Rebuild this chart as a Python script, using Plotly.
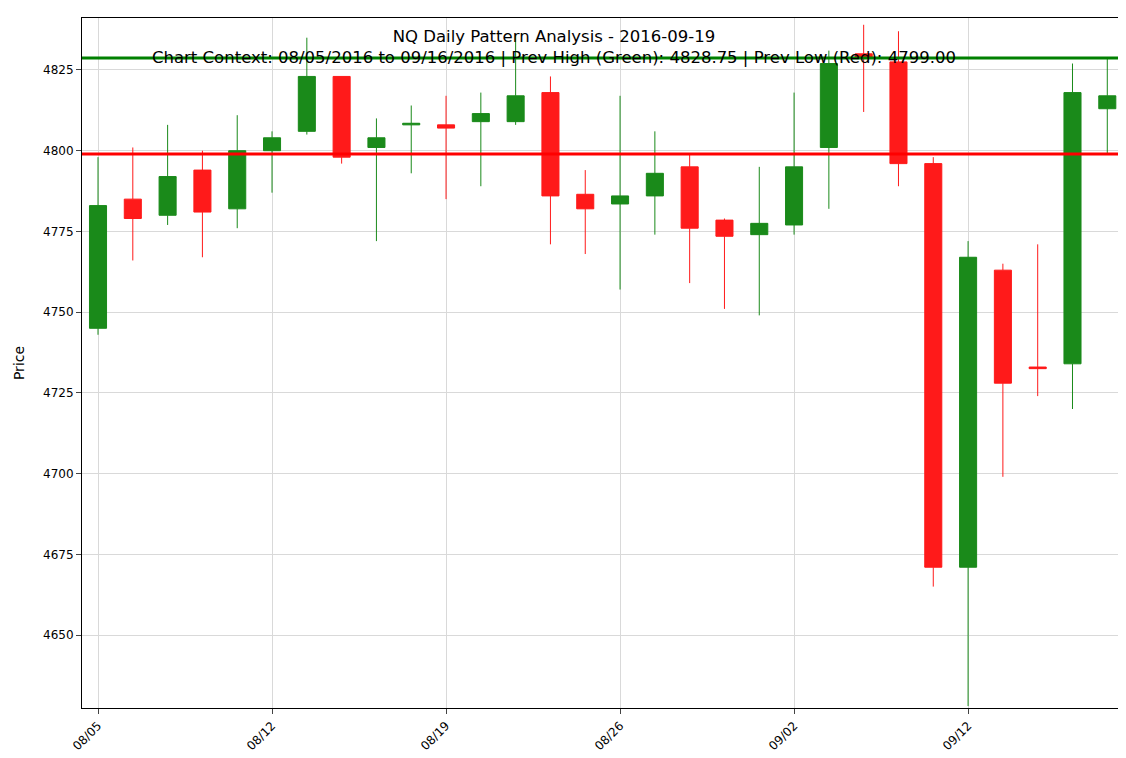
import plotly.graph_objects as go

# --- Data ---
dates = ["08/05", "08/08", "08/09", "08/10", "08/11", "08/12", "08/15", "08/16", "08/17", "08/18",
         "08/19", "08/22", "08/23", "08/24", "08/25", "08/26", "08/29", "08/30", "08/31", "09/01",
         "09/02", "09/06", "09/07", "09/08", "09/09", "09/12", "09/13", "09/14", "09/15", "09/16"]
opens  = [4745, 4785, 4780, 4794, 4782, 4800, 4806, 4823, 4801, 4808,
          4808, 4809, 4809, 4818, 4786.5, 4783.5, 4786, 4795, 4778.5, 4774,
          4777, 4801, 4830, 4827.5, 4796, 4671, 4763, 4733, 4734, 4813]
highs  = [4798, 4801, 4808, 4800, 4811, 4806, 4835, 4823, 4810, 4814,
          4817, 4818, 4836, 4823, 4794, 4817, 4806, 4799, 4779, 4795,
          4818, 4831, 4839, 4837, 4798, 4772, 4765, 4771, 4827, 4829]
lows   = [4743, 4766, 4777, 4767, 4776, 4787, 4805, 4796, 4772, 4793,
          4785, 4789, 4808, 4771, 4768, 4757, 4774, 4759, 4751, 4749,
          4774, 4782, 4812, 4789, 4665, 4628, 4699, 4724, 4720, 4799]
closes = [4783, 4779, 4792, 4781, 4800, 4804, 4823, 4798, 4804, 4808.5,
          4807, 4811.5, 4817, 4786, 4782, 4786, 4793, 4776, 4773.5, 4777.5,
          4795, 4827, 4829, 4796, 4671, 4767, 4728, 4732.5, 4818, 4817]
tick_idx = [0, 5, 10, 15, 20, 25]
prev_high = 4828.75
prev_low = 4799.00

x = list(range(len(dates)))

fig = go.Figure()
fig.add_trace(go.Candlestick(
    x=x, open=opens, high=highs, low=lows, close=closes,
    increasing=dict(line=dict(color="#1a8a1a", width=1), fillcolor="#1a8a1a"),
    decreasing=dict(line=dict(color="#ff1a1a", width=1), fillcolor="#ff1a1a"),
    whiskerwidth=0, showlegend=False,
))
fig.add_hline(y=prev_high, line_color="#008000", line_width=3)
fig.add_hline(y=prev_low, line_color="#ff0000", line_width=3)

fig.add_annotation(
    x=0.453, y=0.99, xref="paper", yref="paper", showarrow=False, align="center",
    yanchor="top",
    text="NQ Daily Pattern Analysis - 2016-09-19<br>"
         f"Chart Context: {dates[0]}/2016 to {dates[-1]}/2016 | Prev High (Green): {prev_high:.2f} | Prev Low (Red): {prev_low:.2f}",
    font=dict(size=16.5, color="black"),
)

fig.update_layout(
    width=1126, height=758,
    margin=dict(l=74, r=10, t=10, b=58),
    paper_bgcolor="white", plot_bgcolor="white",
    font=dict(family="DejaVu Sans", size=12, color="black"),
    xaxis=dict(
        range=[-0.46, 29.48], rangeslider=dict(visible=False), automargin=False,
        tickmode="array", tickvals=tick_idx, ticktext=[dates[i] for i in tick_idx],
        tickangle=-45, showgrid=True, gridcolor="#d9d9d9",
        showline=True, linecolor="black", mirror=True, ticks="outside", zeroline=False,
    ),
    yaxis=dict(
        range=[4627.4, 4841.1], title=dict(text="Price"), dtick=25, automargin=False,
        showgrid=True, gridcolor="#d9d9d9",
        showline=True, linecolor="black", mirror=True, ticks="outside", zeroline=False,
    ),
)

fig.write_html("out.html")
